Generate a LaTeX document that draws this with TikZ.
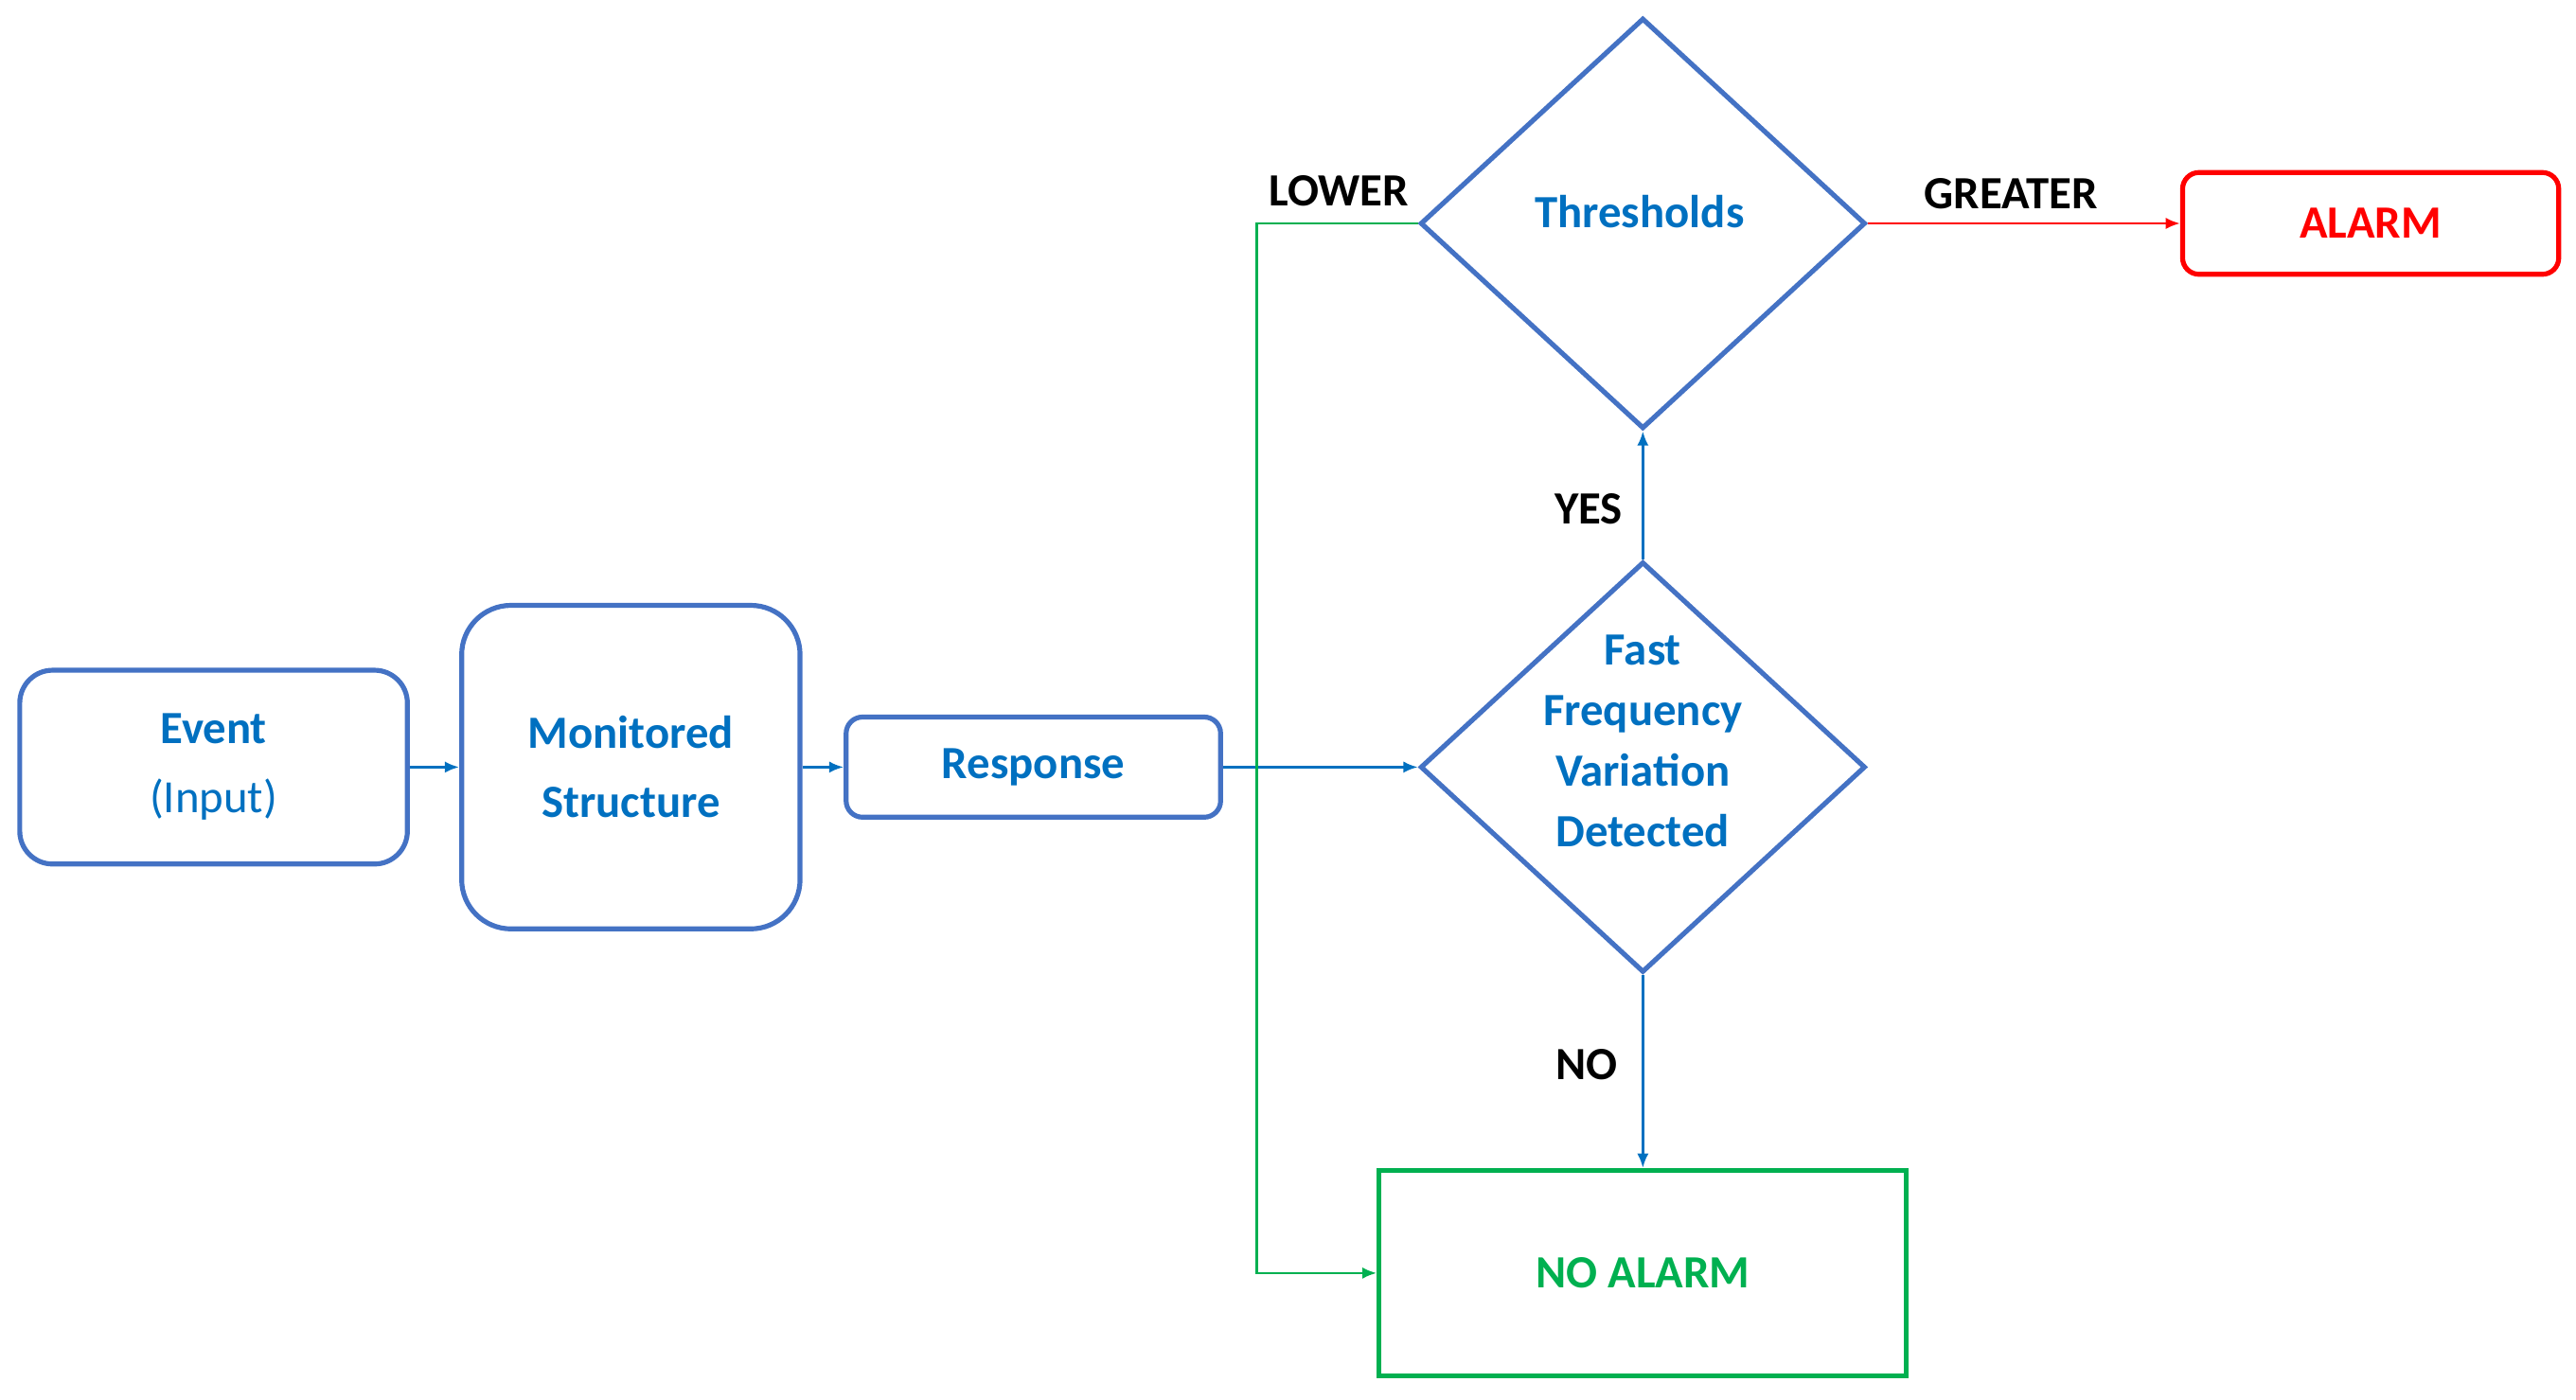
\documentclass[tikz,border=0pt]{standalone}
\usepackage{fontspec}
\setmainfont{Carlito}
\usetikzlibrary{shapes.geometric,arrows.meta}
\definecolor{bord}{RGB}{68,114,196}
\definecolor{tblue}{RGB}{0,112,192}
\definecolor{tgreen}{RGB}{0,176,80}
\begin{document}
\begin{tikzpicture}[x=0.02cm,y=-0.02cm,
  box/.style={draw=bord,line width=1.7pt,rounded corners=0.4cm,inner sep=0pt,text=tblue,font=\fontsize{16}{24}\selectfont\bfseries,align=center},
  dia/.style={draw=bord,line width=1.7pt,diamond,inner sep=0pt,minimum width=5.42cm,minimum height=5cm},
  txt/.style={text=tblue,font=\fontsize{16}{24}\selectfont\bfseries,align=center},
  lab/.style={font=\fontsize{16}{19}\selectfont\bfseries},
  conn/.style={line width=0.9pt,-{Latex[length=5pt,width=4pt]}}]
\useasboundingbox (0,0) rectangle (1568,852);
\node[box,minimum width=4.72cm,minimum height=2.36cm] (ev) at (130,467) {Event\\\mdseries(Input)};
\node[box,minimum width=4.12cm,minimum height=3.94cm,rounded corners=0.6cm] (ms) at (384,467) {Monitored\\Structure};
\node[box,minimum width=4.56cm,minimum height=1.22cm,rounded corners=0.2cm] (rs) at (629,467) {Response};
\node[dia] (ff) at (1000,467) {};
\node[txt,font=\fontsize{16}{21}\selectfont\bfseries] (fft) at (1000,451) {Fast\\Frequency\\Variation\\Detected};
\node[dia] (th) at (1000,136) {};
\node[txt] (tht) at (998,129) {Thresholds};
\node[box,draw=red,text=red,minimum width=4.58cm,minimum height=1.24cm,rounded corners=0.2cm] (al) at (1443,136) {ALARM};
\node[box,draw=tgreen,text=tgreen,rounded corners=0pt,minimum width=6.42cm,minimum height=2.5cm] (na) at (1000,775) {NO ALARM};
\draw[conn,draw=tblue] (ev) -- (ms);
\draw[conn,draw=tblue] (ms) -- (rs);
\draw[conn,draw=tblue] (rs) -- (ff);
\draw[conn,draw=tblue] (ff.north) -- (th.south);
\draw[conn,draw=tblue] (ff.south) -- (na.north);
\draw[conn,draw=red] (th.east) -- (al.west);
\coordinate (c1) at (765,136);
\coordinate (c2) at (765,775);
\draw[conn,draw=tgreen] (th.west) -- (c1) -- (c2) -- (na.west);
\node[lab] (l1) at (815,116) {LOWER};
\node[lab] (l2) at (1224,118) {GREATER};
\node[lab] (l3) at (967,310) {YES};
\node[lab] (l4) at (966,648) {NO};
\end{tikzpicture}
\end{document}
